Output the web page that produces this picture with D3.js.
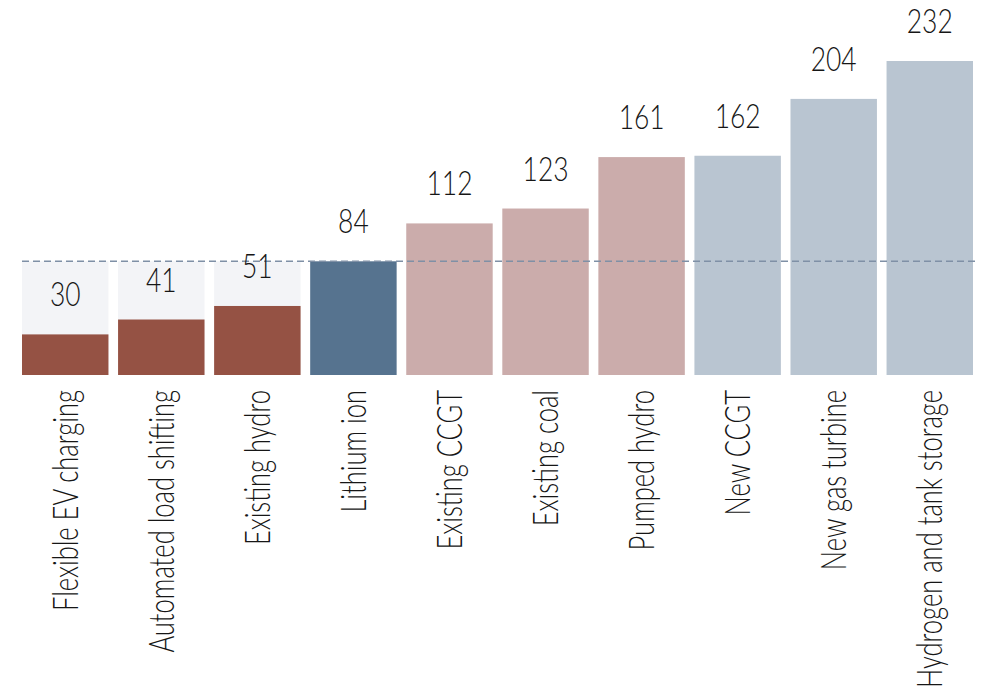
<!DOCTYPE html>
<html>
<head>
<meta charset="utf-8">
<script src="https://cdn.jsdelivr.net/npm/d3@7"></script>
<style>
  html, body { margin: 0; padding: 0; background: #ffffff; }
  svg { display: block; }
  text { font-family: Lato, "Open Sans", sans-serif; font-weight: 300; fill: #161616; }
</style>
</head>
<body>
<svg id="chart" width="982" height="689"></svg>
<script>
const categories = ["Flexible EV charging", "Automated load shifting", "Existing hydro", "Lithium ion",
  "Existing CCGT", "Existing coal", "Pumped hydro", "New CCGT", "New gas turbine", "Hydrogen and tank storage"];
const values = [30, 41, 51, 84, 112, 123, 161, 162, 204, 232];
const groups = ["flex", "flex", "flex", "ref", "existing", "existing", "existing", "new", "new", "new"];
const referenceValue = 84;

const colors = { flex: "#955244", ref: "#56738f", existing: "#cbacab", new: "#b9c5d1" };

const svg = d3.select("#chart");
const baseY = 375;

const x = d3.scaleBand().domain(categories).range([22, 973]).paddingInner(0.1).paddingOuter(0);
const y = d3.scaleLinear().domain([0, 232]).range([baseY, 61]);

const data = categories.map((c, i) => ({ c, v: values[i], g: groups[i] }));

// light background boxes up to the reference level
svg.append("g").selectAll("rect")
  .data(data.filter(d => d.v < referenceValue))
  .join("rect")
  .attr("x", d => x(d.c))
  .attr("width", x.bandwidth())
  .attr("y", y(referenceValue))
  .attr("height", baseY - y(referenceValue))
  .attr("fill", "#f3f4f7");

// bars
svg.append("g").selectAll("rect")
  .data(data)
  .join("rect")
  .attr("x", d => x(d.c))
  .attr("width", x.bandwidth())
  .attr("y", d => y(d.v))
  .attr("height", d => baseY - y(d.v))
  .attr("fill", d => colors[d.g]);

// dashed reference line
svg.append("line")
  .attr("x1", 22).attr("x2", 975)
  .attr("y1", y(referenceValue)).attr("y2", y(referenceValue))
  .attr("stroke", "#7f90a6")
  .attr("stroke-width", 1.4)
  .attr("stroke-dasharray", "7,4");

// value labels
svg.append("g").selectAll("text")
  .data(data)
  .join("text")
  .attr("transform", d => `translate(${x(d.c) + x.bandwidth() / 2},${y(d.v) - 28}) scale(0.8,1)`)
  .attr("text-anchor", "middle")
  .style("font-size", "33px")
  .text(d => d.v);

// category labels (rotated)
svg.append("g").selectAll("text")
  .data(data)
  .join("text")
  .attr("transform", d => `translate(${x(d.c) + x.bandwidth() / 2},390) rotate(-90) scale(0.73,1)`)
  .attr("text-anchor", "end")
  .attr("dy", "0.36em")
  .style("font-size", "35px")
  .text(d => d.c);
</script>
</body>
</html>
